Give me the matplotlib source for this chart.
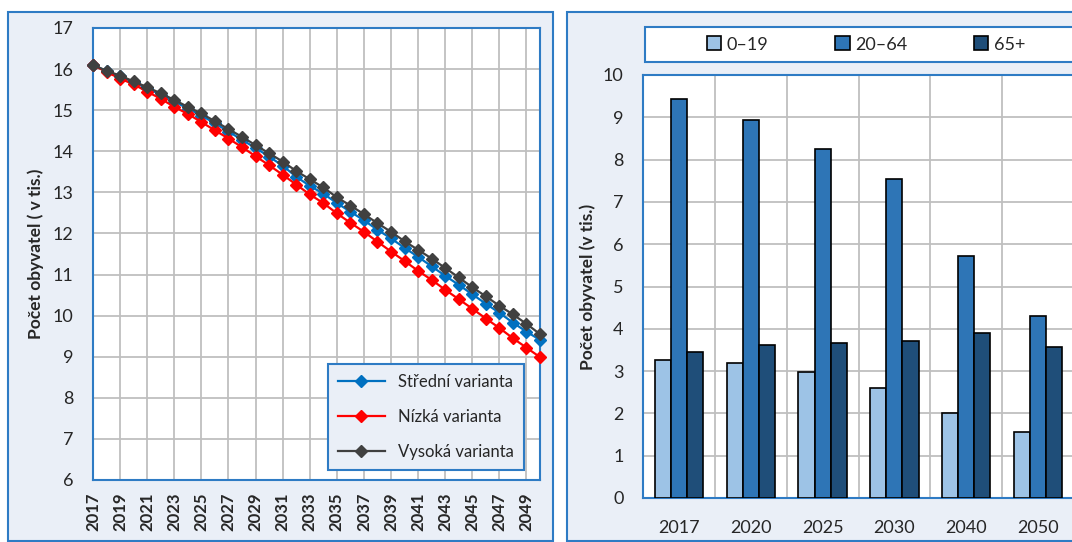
import numpy as np
import matplotlib
matplotlib.use("Agg")
import matplotlib.pyplot as plt
from matplotlib.patches import Rectangle, Patch

# --- data: population projection (thousands) ---
years = list(range(2017, 2051))
stredni = [16.10, 15.95, 15.82, 15.68, 15.53, 15.38, 15.21, 15.04, 14.87, 14.68,
           14.48, 14.28, 14.08, 13.87, 13.65, 13.38, 13.16, 12.97, 12.74, 12.53,
           12.32, 12.09, 11.88, 11.65, 11.43, 11.20, 10.97, 10.75, 10.52, 10.29,
           10.07, 9.83, 9.61, 9.41]
nizka = [16.10, 15.93, 15.77, 15.63, 15.45, 15.28, 15.08, 14.91, 14.71, 14.51,
         14.31, 14.10, 13.88, 13.66, 13.43, 13.19, 12.95, 12.74, 12.49, 12.26,
         12.04, 11.80, 11.56, 11.33, 11.09, 10.87, 10.63, 10.40, 10.17, 9.93,
         9.70, 9.45, 9.22, 8.99]
vysoka = [16.10, 15.96, 15.84, 15.70, 15.56, 15.41, 15.25, 15.08, 14.92, 14.73,
          14.54, 14.35, 14.15, 13.95, 13.75, 13.52, 13.32, 13.12, 12.88, 12.68,
          12.47, 12.25, 12.04, 11.81, 11.60, 11.39, 11.16, 10.93, 10.69, 10.47,
          10.24, 10.03, 9.80, 9.55]

bar_years = ["2017", "2020", "2025", "2030", "2040", "2050"]
age_0_19 = [3.26, 3.19, 2.97, 2.61, 2.02, 1.56]
age_20_64 = [9.43, 8.94, 8.24, 7.55, 5.73, 4.30]
age_65 = [3.45, 3.62, 3.66, 3.71, 3.91, 3.58]

W, H = 1072, 542
BG = "#EAEFF7"
BLUE_EDGE = "#2E7BC4"
GRID = "#BFBFBF"
TXT = "#262626"

plt.rcParams["font.family"] = ["Lato", "DejaVu Sans"]

fig = plt.figure(figsize=(W / 100, H / 100), dpi=100)
fig.patch.set_facecolor("white")


def box(x0, y0, x1, y1):
    # pixel coords (top-left origin) -> figure fraction rect
    return (x0 / W, 1 - y1 / H, (x1 - x0) / W, (y1 - y0) / H)


# panel backgrounds
for x0, y0, x1, y1 in [(8, 12, 553, 541), (567, 12, 1080, 541)]:
    l, b, w, h = box(x0, y0, x1, y1)
    fig.add_artist(Rectangle((l, b), w, h, transform=fig.transFigure,
                             facecolor=BG, edgecolor=BLUE_EDGE, lw=1.5, zorder=0))

# ---- left: line chart ----
ax1 = fig.add_axes(box(93, 28, 540, 480))
ax1.set_facecolor("white")
ax1.plot(years, stredni, color="#0070C0", marker="D", ms=6.5, lw=1.6,
         label="Střední varianta", clip_on=False, zorder=3)
ax1.plot(years, nizka, color="#FF0000", marker="D", ms=6.5, lw=1.6,
         label="Nízká varianta", clip_on=False, zorder=3)
ax1.plot(years, vysoka, color="#404040", marker="D", ms=6.5, lw=1.6,
         label="Vysoká varianta", clip_on=False, zorder=4)
ax1.set_xlim(2017, 2050)
ax1.set_ylim(6, 17)
ax1.set_xticks(range(2017, 2050, 2))
ax1.set_yticks(range(6, 18))
ax1.tick_params(axis="x", labelrotation=90, length=0, labelsize=12, colors=TXT, pad=9)
for t in ax1.get_xticklabels():
    t.set_fontweight("bold")
ax1.tick_params(axis="y", length=0, labelsize=13, colors=TXT, pad=14)
ax1.grid(True, color=GRID, lw=1.3)
ax1.set_axisbelow(True)
for s in ax1.spines.values():
    s.set_color(BLUE_EDGE)
    s.set_linewidth(1.5)
ax1.set_ylabel("Počet obyvatel ( v tis.)", fontsize=12.5, fontweight="bold",
               color=TXT, labelpad=6)
leg1 = ax1.legend(loc="lower right", bbox_to_anchor=(0.964, 0.022),
                  borderaxespad=0, fontsize=12, frameon=True, fancybox=False,
                  handlelength=2.8, labelspacing=1.15, borderpad=0.6)
leg1.get_frame().set_facecolor(BG)
leg1.get_frame().set_edgecolor(BLUE_EDGE)
leg1.get_frame().set_linewidth(1.5)
leg1.get_frame().set_alpha(1)
for t in leg1.get_texts():
    t.set_color(TXT)

# ---- right: grouped bars ----
ax2 = fig.add_axes(box(643, 75, 1074, 498))
ax2.set_facecolor("white")
x = np.arange(len(bar_years))
bw = 0.225
ax2.bar(x - bw, age_0_19, bw, color="#9DC3E6", edgecolor="black", lw=1.2, zorder=3)
ax2.bar(x, age_20_64, bw, color="#2E75B6", edgecolor="black", lw=1.2, zorder=3)
ax2.bar(x + bw, age_65, bw, color="#1F4E79", edgecolor="black", lw=1.2, zorder=3)
ax2.set_xlim(-0.5, len(bar_years) - 0.5)
ax2.set_ylim(0, 10)
ax2.set_xticks(x)
ax2.set_xticklabels(bar_years)
ax2.set_xticks(x[:-1] + 0.5, minor=True)
ax2.set_yticks(range(0, 11))
ax2.tick_params(axis="x", which="both", length=0, labelsize=13, colors=TXT, pad=16)
ax2.tick_params(axis="y", length=0, labelsize=13, colors=TXT, pad=14)
ax2.grid(True, axis="y", color=GRID, lw=1.3)
ax2.grid(True, axis="x", which="minor", color=GRID, lw=1.3)
ax2.set_axisbelow(True)
for s in ax2.spines.values():
    s.set_color(BLUE_EDGE)
    s.set_linewidth(1.5)
ax2.set_ylabel("Počet obyvatel (v tis.)", fontsize=12.5, fontweight="bold",
               color=TXT, labelpad=5)

# legend box on top of the bar chart
l, b, w, h = box(645, 27, 1085, 62)
fig.add_artist(Rectangle((l, b), w, h, transform=fig.transFigure,
                         facecolor="white", edgecolor=BLUE_EDGE, lw=1.5, zorder=1))
handles = [Patch(facecolor=c, edgecolor="black", lw=1.2)
           for c in ["#9DC3E6", "#2E75B6", "#1F4E79"]]
leg2 = fig.legend(handles, ["0–19", "20–64", "65+"], loc="center",
                  bbox_to_anchor=(866 / W, 1 - 44.5 / H), ncol=3, frameon=False,
                  fontsize=13, handlelength=0.8, handleheight=0.8,
                  handletextpad=0.3, columnspacing=3.7)
leg2.set_zorder(2)
for t in leg2.get_texts():
    t.set_color(TXT)

fig.savefig("out.png", dpi=100)
